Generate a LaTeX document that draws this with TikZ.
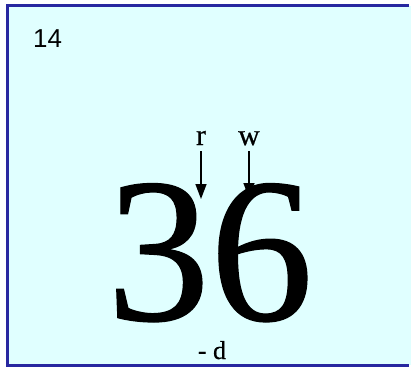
\documentclass[tikz,border=0pt]{standalone}
\usepackage{fontspec}
\setmainfont{Liberation Serif}
\newfontfamily\labsans{Liberation Sans}
\newfontfamily\heavyserif{Liberation Serif}[FakeBold=0.6]
\usetikzlibrary{arrows.meta}
\definecolor{bgcyan}{RGB}{224,255,255}
\definecolor{frameblue}{RGB}{40,40,160}
\tikzset{
  lbl/.style={inner sep=0pt, anchor=base, font=\heavyserif\fontsize{30}{30}\selectfont},
  ptr/.style={line width=1.4bp, -{Triangle[width=11bp,length=15bp]}},
}
\begin{document}
\begin{tikzpicture}[x=1bp,y=-1bp]
\useasboundingbox (0,0) rectangle (411,367);
\fill[bgcyan] (7.5,5.5) rectangle (411,365);
\draw[frameblue, line width=3bp] (409,5.5) -- (7.5,5.5) -- (7.5,365) -- (409,365);
\node[inner sep=0pt, anchor=base west, font=\labsans\fontsize{26}{26}\selectfont] (num) at (33,47) {14};
\node[inner sep=0pt, anchor=base, text depth=0pt, font=\heavyserif\fontsize{207}{207}\selectfont] (big) at (210,320) {36};
\node[lbl] (r) at (201,145) {r};
\node[lbl] (w) at (249,145) {w};
\node[lbl, font=\heavyserif\fontsize{26}{26}\selectfont] (d) at (212,359) {- d};
\coordinate (rs) at (201,151);
\coordinate (ws) at (249,151);
\coordinate (rt) at (201,199);
\coordinate (wt) at (249,198);
\draw[ptr] (rs) -- (rt);
\draw[ptr] (ws) -- (wt);
\end{tikzpicture}
\end{document}
